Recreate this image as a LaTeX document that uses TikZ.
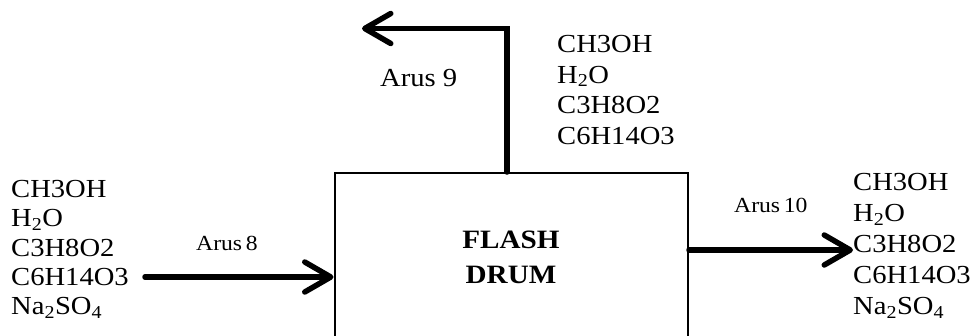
\documentclass[tikz,border=0pt]{standalone}
\usepackage{fontspec}
\setmainfont{Liberation Serif}[FakeStretch=1.1]
\usetikzlibrary{arrows.meta}
\tikzset{
  flow/.style={line width=5.5pt, line cap=round, line join=miter,
    -{Straight Barb[length=26pt,width=30pt,round]}},
  listtext/.style={inner sep=0pt, anchor=north west, align=left},
  aruslabel/.style={inner sep=0pt, anchor=base west, font=\fontsize{21.5}{24}\selectfont},
}
\begin{document}
\begin{tikzpicture}[x=1pt,y=-1pt]
\useasboundingbox (0,0) rectangle (976,335);
\clip (0,0) rectangle (976,335);
% flash drum
\node[draw, line width=2pt, minimum width=353.5pt, minimum height=228pt, inner sep=0pt, anchor=north west] (drum) at (333.5,172) {};
\node[inner sep=0pt, anchor=base, align=center, font=\fontsize{26.5}{35}\selectfont\bfseries] (drumlabel) at (511,283) {FLASH\\DRUM};
% coordinates
\coordinate (c9) at (507,28.5);
\coordinate (t9) at (362,28.5);
\coordinate (s8) at (145,277);
\coordinate (t10) at (853,250);
% arrows
\draw[flow] (c9 |- drum.north) -- (c9) -- (t9);
\draw[flow] (s8) -- (drum.west |- s8);
\draw[flow] (drum.east |- t10) -- (t10);
% lists
\node[listtext, font=\fontsize{26}{29.3}\selectfont] (in8) at (11,180) {CH3OH\\H\textsubscript{2}O\\C3H8O2\\C6H14O3\\Na\textsubscript{2}SO\textsubscript{4}};
\node[listtext, font=\fontsize{26}{30.7}\selectfont] (out9) at (557,35) {CH3OH\\H\textsubscript{2}O\\C3H8O2\\C6H14O3};
\node[listtext, font=\fontsize{26}{31}\selectfont] (out10) at (853,173) {CH3OH\\H\textsubscript{2}O\\C3H8O2\\C6H14O3\\Na\textsubscript{2}SO\textsubscript{4}};
% labels
\node[inner sep=0pt, anchor=base west, font=\fontsize{26}{30}\selectfont] (a9) at (380,86) {Arus 9};
\node[aruslabel] (a8) at (196,250) {Arus\,8};
\node[aruslabel] (a10) at (734,212) {Arus\,10};
\end{tikzpicture}
\end{document}
